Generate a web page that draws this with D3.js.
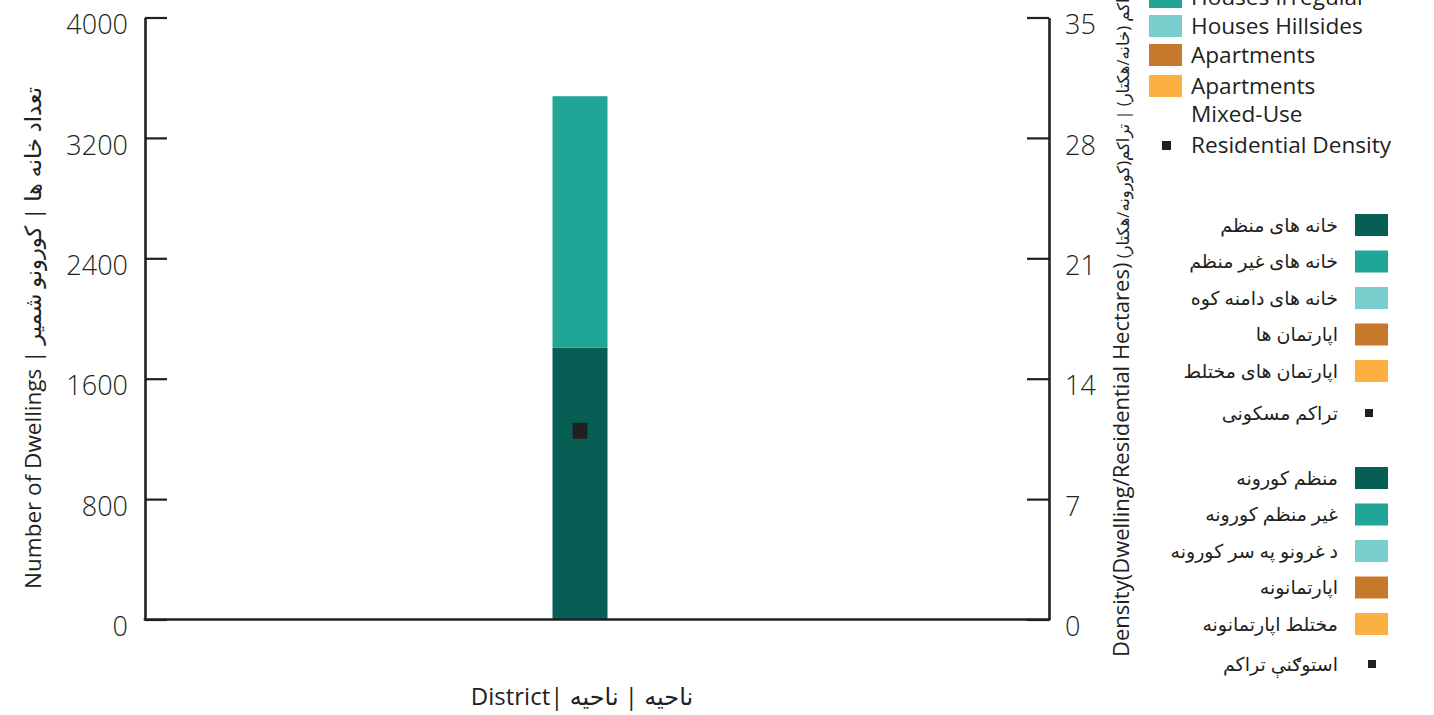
<!DOCTYPE html>
<html>
<head>
<meta charset="utf-8">
<script src="https://cdn.jsdelivr.net/npm/d3@7"></script>
<style>
  html, body { margin: 0; padding: 0; background: #fff; }
  svg { display: block; }
  text { font-family: "Open Sans", "Noto Sans", "DejaVu Sans", sans-serif; fill: #231F20; }
</style>
</head>
<body>
<svg id="chart" width="1434" height="715"></svg>
<script>
// ---- data ----
const categories = ["District"];
const seriesKeys = ["housesRegular", "housesIrregular", "housesHillsides", "apartments", "apartmentsMixed"];
const housesRegular = [1807];
const housesIrregular = [1670];
const housesHillsides = [0];
const apartments = [0];
const apartmentsMixed = [0];
const density = [11];
const leftTicks = [0, 800, 1600, 2400, 3200, 4000];
const rightTicks = [0, 7, 14, 21, 28, 35];
const seriesColors = ["#065E54", "#21A596", "#7ACDCD", "#C7792B", "#FBB041"];
const markerColor = "#231F20";
const legendEnglish = ["Houses Regular", "Houses Irregular", "Houses Hillsides", "Apartments", "Apartments\nMixed-Use"];
const legendEnglishMarker = "Residential Density";
const legendPersian = ["خانه های منظم", "خانه های غیر منظم", "خانه های دامنه کوه", "اپارتمان ها", "اپارتمان های مختلط"];
const legendPersianMarker = "تراکم مسکونی";
const legendPashto = ["منظم کورونه", "غیر منظم کورونه", "د غرونو په سر کورونه", "اپارتمانونه", "مختلط اپارتمانونه"];
const legendPashtoMarker = "استوګنې تراکم";
const leftTitle = "Number of Dwellings | تعداد خانه ها | کورونو شمیر";
const rightTitleEn = "Density(Dwelling/Residential Hectares)";
const rightTitleFa = " تراکم (خانه/هکتار) | تراکم(کورونه/هکتار)";
const xTitle = "District| ناحیه | ناحیه";

// ---- layout ----
const svg = d3.select("#chart");
const plot = { left: 145, right: 1049, top: 17.5, bottom: 619.5 };
const axisColor = "#231F20";

const rows = categories.map((c, i) => ({
  category: c,
  housesRegular: housesRegular[i],
  housesIrregular: housesIrregular[i],
  housesHillsides: housesHillsides[i],
  apartments: apartments[i],
  apartmentsMixed: apartmentsMixed[i],
  density: density[i]
}));

const x = d3.scalePoint().domain(categories).range([plot.left, 1015]).padding(0.5);
const yL = d3.scaleLinear().domain([0, 4000]).range([plot.bottom, plot.top]);
const yR = d3.scaleLinear().domain([0, 35]).range([plot.bottom, plot.top]);
const color = d3.scaleOrdinal().domain(seriesKeys).range(seriesColors);
const barWidth = 55;

// bars
const stacked = d3.stack().keys(seriesKeys)(rows);
svg.append("g").selectAll("g").data(stacked).join("g")
  .attr("fill", d => color(d.key))
  .selectAll("rect").data(d => d).join("rect")
  .attr("x", d => x(d.data.category) - barWidth / 2)
  .attr("width", barWidth)
  .attr("y", d => yL(d[1]))
  .attr("height", d => yL(d[0]) - yL(d[1]));

// density markers
const ms = 15;
svg.append("g").selectAll("rect").data(rows).join("rect")
  .attr("x", d => x(d.category) - ms / 2)
  .attr("y", d => yR(d.density) - ms / 2)
  .attr("width", ms).attr("height", ms + 1)
  .attr("fill", markerColor);

// axes
function styleAxis(g) {
  g.selectAll("path.domain").attr("stroke", axisColor).attr("stroke-width", 2.6);
  g.selectAll(".tick line").attr("stroke", axisColor).attr("stroke-width", 2.2);
  g.selectAll(".tick text")
    .style("font-family", '"Open Sans", "Noto Sans", sans-serif')
    .style("font-size", "27px")
    .style("font-weight", "300")
    .attr("fill", "#2b2b2b")
    .attr("dy", "0.6em");
}
svg.append("g").attr("transform", `translate(${plot.left},0)`)
  .call(d3.axisLeft(yL).tickValues(leftTicks).tickSizeInner(-22).tickSizeOuter(0).tickPadding(17).tickFormat(d3.format("d")))
  .call(styleAxis);
svg.append("g").attr("transform", `translate(${plot.right},0)`)
  .call(d3.axisRight(yR).tickValues(rightTicks).tickSizeInner(-22).tickSizeOuter(0).tickPadding(16).tickFormat(d3.format("d")))
  .call(styleAxis);
// bottom baseline
svg.append("line")
  .attr("x1", plot.left - 1.3).attr("x2", plot.right + 1.3)
  .attr("y1", yL(0)).attr("y2", yL(0))
  .attr("stroke", axisColor).attr("stroke-width", 2.6);

// axis titles
svg.append("text")
  .attr("transform", `translate(41, 338) rotate(-90)`)
  .attr("text-anchor", "middle")
  .style("font-size", "22.5px")
  .text(leftTitle);

const rt = svg.append("text")
  .attr("transform", `translate(1129, 657) rotate(-90)`)
  .attr("text-anchor", "start");
rt.append("tspan").style("font-size", "22px").text(rightTitleEn);
rt.append("tspan").style("font-size", "16.5px").text(rightTitleFa);

svg.append("text")
  .attr("x", 582).attr("y", 705)
  .attr("text-anchor", "middle")
  .style("font-size", "24px")
  .text(xTitle);

// English legend (top, partially clipped)
const enG = svg.append("g");
const enY = [-33, -3, 26, 55, 86];
legendEnglish.forEach((label, i) => {
  enG.append("rect").attr("x", 1149).attr("y", enY[i] - 11).attr("width", 33).attr("height", 22)
    .attr("fill", seriesColors[i]);
  const t = enG.append("text").attr("x", 1191).attr("y", enY[i]).style("font-size", "22.6px");
  label.split("\n").forEach((line, j) => {
    t.append("tspan").attr("x", 1191).attr("dy", j === 0 ? "0.35em" : "1.25em").text(line);
  });
});
enG.append("rect").attr("x", 1162).attr("y", 141).attr("width", 9).attr("height", 9).attr("fill", markerColor);
enG.append("text").attr("x", 1191).attr("y", 145).attr("dy", "0.35em").style("font-size", "22.6px").text(legendEnglishMarker);

// Persian / Pashto legends
function rtlLegend(labels, markerLabel, y0, step, markerY, markerX) {
  const g = svg.append("g");
  labels.forEach((label, i) => {
    const cy = y0 + i * step;
    g.append("rect").attr("x", 1355).attr("y", cy - 11).attr("width", 33).attr("height", 22)
      .attr("fill", seriesColors[i]);
    g.append("text").attr("x", 1338).attr("y", cy).attr("dy", "0.35em")
      .attr("text-anchor", "end").style("font-size", "19px").text(label);
  });
  g.append("rect").attr("x", markerX - 4).attr("y", markerY - 4).attr("width", 8).attr("height", 8).attr("fill", markerColor);
  g.append("text").attr("x", 1338).attr("y", markerY).attr("dy", "0.35em")
    .attr("text-anchor", "end").style("font-size", "19px").text(markerLabel);
}
rtlLegend(legendPersian, legendPersianMarker, 225, 36.5, 413, 1369);
rtlLegend(legendPashto, legendPashtoMarker, 478, 36.5, 664, 1372);
</script>
</body>
</html>
